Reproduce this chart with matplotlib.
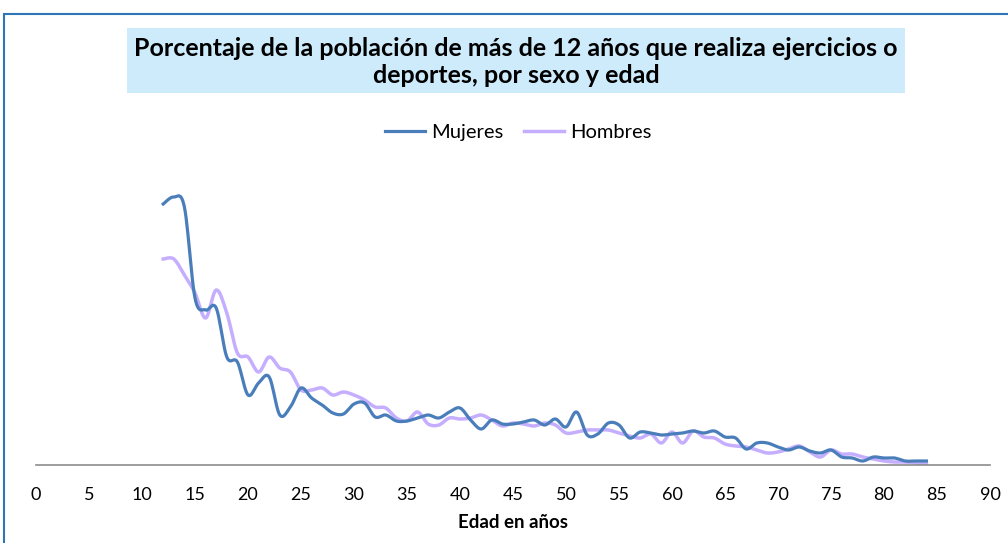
import numpy as np
import matplotlib
matplotlib.use("Agg")
import matplotlib.pyplot as plt
from matplotlib.patches import Rectangle

# edades y porcentajes
edades = list(range(12, 85))
mujeres = [26.1, 26.8, 25.8, 16.7, 15.5, 15.7, 10.8, 10.3, 7.0, 8.2,
           8.8, 5.0, 5.8, 7.7, 6.7, 6.0, 5.2, 5.1, 6.1, 6.2,
           4.8, 5.0, 4.4, 4.4, 4.7, 5.0, 4.7, 5.3, 5.7, 4.5,
           3.6, 4.5, 4.1, 4.1, 4.3, 4.5, 4.0, 4.6, 3.8, 5.3,
           3.0, 3.1, 4.2, 4.0, 2.7, 3.3, 3.2, 3.0, 3.1, 3.2,
           3.4, 3.2, 3.4, 2.8, 2.7, 1.6, 2.2, 2.2, 1.8, 1.5,
           1.8, 1.4, 1.2, 1.5, 0.8, 0.7, 0.4, 0.8, 0.7, 0.7,
           0.4, 0.4, 0.4]
hombres = [20.6, 20.6, 19.0, 17.2, 14.7, 17.5, 15.2, 11.2, 10.8, 9.3,
           10.8, 9.7, 9.3, 7.5, 7.5, 7.7, 7.0, 7.3, 7.0, 6.5,
           5.8, 5.7, 4.7, 4.4, 5.3, 4.1, 4.0, 4.7, 4.6, 4.7,
           5.0, 4.5, 3.9, 4.2, 4.1, 3.9, 4.2, 4.0, 3.2, 3.3,
           3.5, 3.5, 3.5, 3.2, 2.9, 2.7, 3.1, 2.2, 3.3, 2.2,
           3.4, 2.8, 2.7, 2.1, 1.9, 1.8, 1.5, 1.2, 1.3, 1.6,
           1.9, 1.3, 0.8, 1.5, 1.1, 1.1, 0.8, 0.6, 0.4, 0.3,
           0.3, 0.2, 0.1]

titulo = "Porcentaje de la población de más de 12 años que realiza ejercicios o\ndeportes, por sexo y edad"


def suavizar(x, y, n=12):
    # curva tipo Catmull-Rom, como la linea suavizada de Excel
    x = np.asarray(x, float)
    y = np.asarray(y, float)
    px = np.concatenate([[x[0]], x, [x[-1]]])
    py = np.concatenate([[y[0]], y, [y[-1]]])
    t = np.linspace(0, 1, n, endpoint=False)
    xs, ys = [], []
    for i in range(1, len(px) - 2):
        for p, out in ((px, xs), (py, ys)):
            p0, p1, p2, p3 = p[i - 1], p[i], p[i + 1], p[i + 2]
            out.extend(0.5 * (2 * p1 + (-p0 + p2) * t
                              + (2 * p0 - 5 * p1 + 4 * p2 - p3) * t ** 2
                              + (-p0 + 3 * p1 - 3 * p2 + p3) * t ** 3))
    xs.append(x[-1])
    ys.append(y[-1])
    return np.array(xs), np.array(ys)


plt.rcParams['font.family'] = ['Lato', 'DejaVu Sans']
fig = plt.figure(figsize=(10.08, 5.43), dpi=100)
W, H = 1008, 543

# borde del area del grafico
fig.patches.append(Rectangle((4 / W, -0.1), 1.2, (H - 14) / H + 0.1,
                             transform=fig.transFigure, fill=False,
                             edgecolor="#2E75B6", linewidth=1.5))

# caja del titulo
fig.patches.append(Rectangle((127 / W, 1 - 93 / H), (905 - 127) / W, 65 / H,
                             transform=fig.transFigure, facecolor="#CDEBFB",
                             edgecolor="none"))
fig.text(516 / W, 1 - 62 / H, titulo, ha="center", va="center",
         fontsize=18, fontweight="bold", linespacing=1.2)

ax = fig.add_axes([36 / W, 78 / H, (990 - 36) / W, (465 - 165) / H])
xm, ym = suavizar(edades, mujeres)
xh, yh = suavizar(edades, hombres)
ax.plot(xm, ym, color="#4A7EBB", linewidth=2.3, label="Mujeres", zorder=3)
ax.plot(xh, yh, color="#C6AEFF", linewidth=2.5, label="Hombres", zorder=2)

ax.set_xlim(0, 90)
ax.set_ylim(0, 30)
ax.set_xticks(range(0, 91, 5))
ax.set_yticks([])
ax.tick_params(axis="x", length=0, pad=16, labelsize=13)
for s in ("top", "right", "left"):
    ax.spines[s].set_visible(False)
ax.spines["bottom"].set_color("#8C8C8C")
ax.spines["bottom"].set_linewidth(1.2)
ax.set_xlabel("Edad en años", fontsize=13.5, fontweight="bold", labelpad=8)

ax.legend(loc="center", bbox_to_anchor=(518 / W, 1 - 132 / H),
          bbox_transform=fig.transFigure, ncol=2, frameon=False,
          fontsize=14.5, handlelength=2.0, columnspacing=1.0, handletextpad=0.3)

fig.savefig("out.png", dpi=100)
